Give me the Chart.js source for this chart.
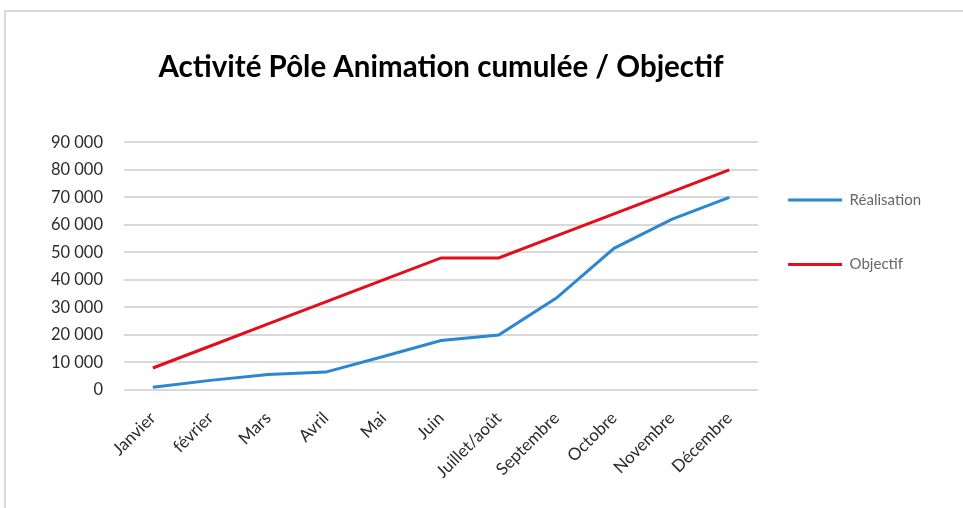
<!DOCTYPE html>
<html lang="fr">
<head>
<meta charset="utf-8">
<title>Activité Pôle Animation cumulée / Objectif</title>
<script src="https://cdn.jsdelivr.net/npm/chart.js@4.4.1/dist/chart.umd.min.js"></script>
<style>
  html, body { margin: 0; padding: 0; background: #fff; }
  #frame {
    position: absolute; left: 4px; top: 10px; width: 980px; height: 520px;
    border-top: 2px solid #d9d9d9; border-left: 2px solid #d9d9d9;
  }
  #wrap { position: absolute; left: 0; top: 0; width: 963px; height: 508px; }
</style>
</head>
<body>
<div id="frame"></div>
<div id="wrap"><canvas id="chart"></canvas></div>
<script>
const months = ['Janvier', 'février', 'Mars', 'Avril', 'Mai', 'Juin', 'Juillet/août',
  'Septembre', 'Octobre', 'Novembre', 'Décembre'];
const realisation = [1000, 3500, 5600, 6500, 12200, 18000, 20000, 33400, 51500, 62000, 70000];
const objectif = [8000, 16000, 24000, 32000, 40000, 48000, 48000, 56000, 64000, 72000, 80000];
const yTicks = [0, 10000, 20000, 30000, 40000, 50000, 60000, 70000, 80000, 90000];

const FONT = 'Lato, "Open Sans", sans-serif';
const fmt = (v) => String(v).replace(/\B(?=(\d{3})+(?!\d))/g, ' ');

const ctx = document.getElementById('chart');
new Chart(ctx, {
  type: 'line',
  data: {
    labels: months,
    datasets: [
      { label: 'Réalisation', data: realisation, borderColor: '#2b87d1', backgroundColor: '#2b87d1', borderWidth: 3, pointRadius: 0, tension: 0 },
      { label: 'Objectif', data: objectif, borderColor: '#e30e1c', backgroundColor: '#e30e1c', borderWidth: 3, pointRadius: 0, tension: 0 }
    ]
  },
  options: {
    responsive: true,
    maintainAspectRatio: false,
    animation: false,
    layout: { padding: { top: 0, left: 0, right: 32, bottom: 0 } },
    plugins: {
      title: {
        display: true,
        fullSize: false,
        text: 'Activité Pôle Animation cumulée / Objectif',
        color: '#000',
        font: { family: FONT, size: 29.5, weight: 'bold' },
        padding: { top: 50, bottom: 57 }
      },
      legend: {
        position: 'right',
        align: 'start',
        fullSize: false,
        title: { display: true, text: '', padding: { top: 8, bottom: 0 }, font: { size: 10 } },
        labels: {
          boxWidth: 54,
          boxHeight: 3,
          padding: 30,
          color: '#333',
          font: { family: FONT, size: 15, lineHeight: 1.15 },
          generateLabels: (chart) => chart.data.datasets.map((ds, i) => ({
            text: [ds.label, ''],
            fillStyle: ds.borderColor,
            strokeStyle: ds.borderColor,
            lineWidth: 0,
            datasetIndex: i
          }))
        }
      },
      tooltip: { enabled: false }
    },
    scales: {
      x: {
        offset: true,
        grid: { display: false },
        border: { display: false },
        ticks: { color: '#2b2b2b', font: { family: FONT, size: 17 }, minRotation: 45, maxRotation: 45, padding: 10 },
        afterFit: (s) => { s.height = 118; }
      },
      y: {
        min: 0,
        max: 90000,
        afterBuildTicks: (s) => { s.ticks = yTicks.map((v) => ({ value: v })); },
        grid: { color: '#d9d9d9', lineWidth: 2, drawTicks: false },
        border: { display: false },
        ticks: { color: '#2b2b2b', font: { family: FONT, size: 16.5 }, padding: 21, callback: (v) => fmt(v) },
        afterFit: (s) => { s.width = 124; }
      }
    }
  }
});
</script>
</body>
</html>
